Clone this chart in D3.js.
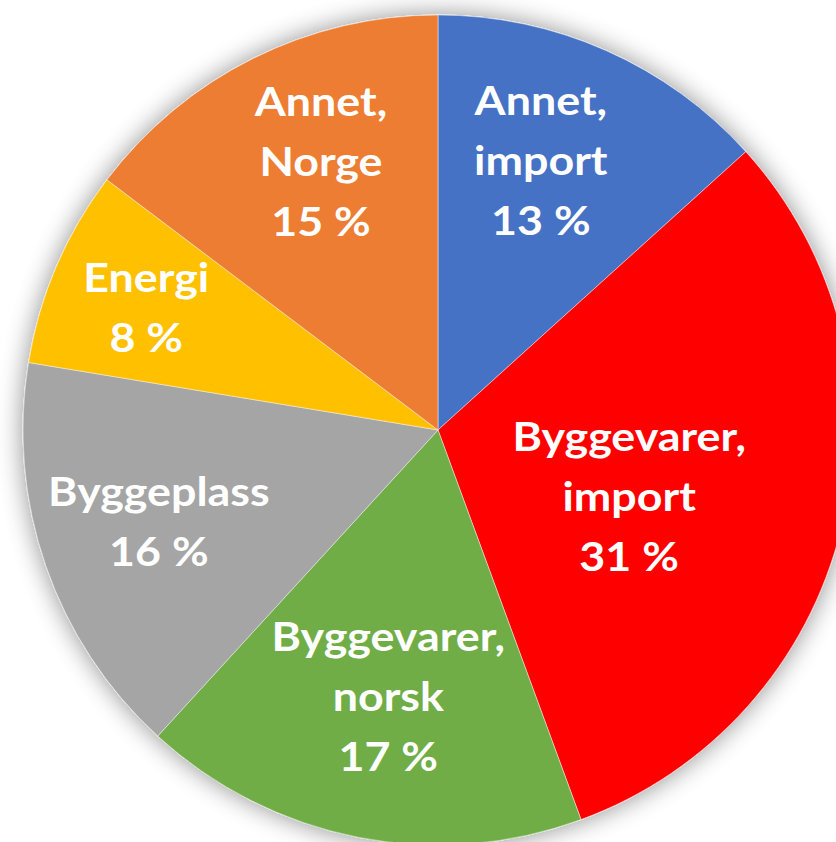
<!DOCTYPE html>
<html>
<head>
<meta charset="utf-8">
<script src="https://cdn.jsdelivr.net/npm/d3@7"></script>
<style>
  body { margin: 0; background: #fff; }
  svg { display: block; }
</style>
</head>
<body>
<div id="chart"></div>
<script>
// slices, clockwise from 12 o'clock (shares)
var labels = [
  ["Annet,", "import"],
  ["Byggevarer,", "import"],
  ["Byggevarer,", "norsk"],
  ["Byggeplass"],
  ["Energi"],
  ["Annet,", "Norge"]
];
var values = [13.3, 31.1, 17.4, 15.8, 7.7, 14.7];
var colors = ["#4472C4", "#FF0000", "#70AD47", "#A5A5A5", "#FFC000", "#ED7D31"];

const width = 836, height = 842;
const cx = 438, cy = 430, r = 415;
// label placement like excel's best fit: radius fraction + small angle nudge (deg)
const labelPos = [0.69, 0.49, 0.66, 0.71, 0.76, 0.70];
const labelTurn = [-2.9, 6.1, -0.7, 0.4, -0.9, 2.7];

const svg = d3.select("#chart")
  .append("svg")
    .attr("width", width)
    .attr("height", height);

const defs = svg.append("defs");
const filt = defs.append("filter")
  .attr("id", "shadow")
  .attr("x", "-20%").attr("y", "-20%")
  .attr("width", "140%").attr("height", "140%");
filt.append("feGaussianBlur")
  .attr("in", "SourceAlpha")
  .attr("stdDeviation", 13)
  .attr("result", "blur");
filt.append("feComponentTransfer")
  .attr("in", "blur")
  .attr("result", "soft")
  .append("feFuncA").attr("type", "linear").attr("slope", 0.45);
const merge = filt.append("feMerge");
merge.append("feMergeNode").attr("in", "soft");
merge.append("feMergeNode").attr("in", "SourceGraphic");

const g = svg.append("g")
  .attr("transform", `translate(${cx},${cy})`);

const pie = d3.pie().sort(null).value(d => d);
const arcs = pie(values);

const arc = d3.arc().innerRadius(0).outerRadius(r);

g.append("g")
  .attr("filter", "url(#shadow)")
  .selectAll("path")
  .data(arcs)
  .join("path")
    .attr("d", arc)
    .attr("fill", (d, i) => colors[i])
    .attr("stroke", "#fff")
    .attr("stroke-opacity", 0.6)
    .attr("stroke-width", 0.75);

const fmt = d3.format(".0f");
const lineH = 60;
const lbl = g.append("g")
  .selectAll("text")
  .data(arcs)
  .join("text")
    .attr("transform", (d, i) => {
      var a = (d.startAngle + d.endAngle) / 2 + labelTurn[i] * Math.PI / 180;
      var rr = r * labelPos[i];
      return `translate(${rr * Math.sin(a)},${-rr * Math.cos(a)}) scale(1.12,1)`;
    })
    .attr("text-anchor", "middle")
    .attr("fill", "#fff")
    .style("font-family", "Lato, 'Open Sans', sans-serif")
    .style("font-weight", "bold")
    .style("font-size", "40px");

lbl.each(function(d, i) {
  var lines = labels[i].concat([fmt(values[i]) + " %"]);
  var t = d3.select(this);
  var y0 = -(lines.length - 1) * lineH / 2;
  lines.forEach(function(s, k) {
    t.append("tspan")
      .attr("x", 0)
      .attr("y", y0 + k * lineH)
      .attr("dy", "0.3em")
      .text(s);
  });
});
</script>
</body>
</html>
